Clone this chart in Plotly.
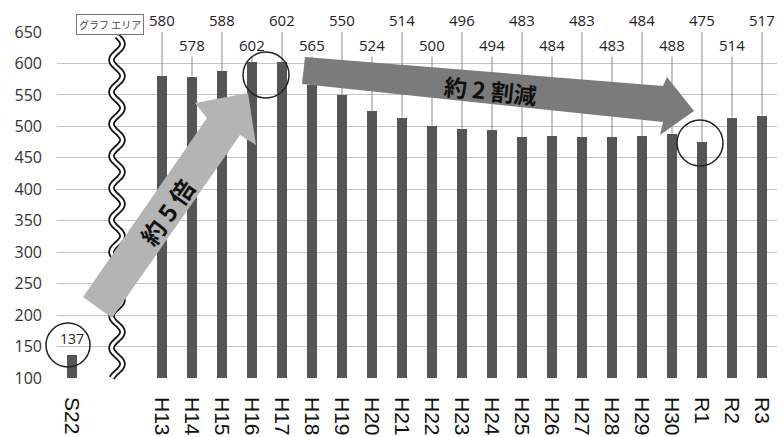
import math
import plotly.graph_objects as go

# ---- data ----
categories = ["S22", "H13", "H14", "H15", "H16", "H17", "H18", "H19", "H20", "H21",
              "H22", "H23", "H24", "H25", "H26", "H27", "H28", "H29", "H30",
              "R1", "R2", "R3"]
values = [137, 580, 578, 588, 602, 602, 565, 550, 524, 514,
          500, 496, 494, 483, 484, 483, 483, 484, 488,
          475, 514, 517]
y_ticks = [100, 150, 200, 250, 300, 350, 400, 450, 500, 550, 600, 650]

W, H = 784, 437
ML, MR, MT, MB = 57, 7, 32, 59
PW, PH = W - ML - MR, H - MT - MB
FONT_JP = "Noto Sans CJK JP"
FONT_NUM = "Open Sans"


def px(x, y):
    return (x - ML) / PW, (H - MB - y) / PH


def path(points, close=True):
    s = ""
    for i, (x, y) in enumerate(points):
        a, b = px(x, y)
        s += ("M" if i == 0 else "L") + f"{a:.5f},{b:.5f}"
    return s + ("Z" if close else "")


axis_order = ["S22", " ", "  "] + categories[1:]

fig = go.Figure()
fig.add_trace(go.Bar(x=categories, y=values, width=0.33,
                     marker=dict(color="#555555", line=dict(width=0)),
                     showlegend=False, hoverinfo="x+y"))

# leader lines and labels
lx, ly = [], []
annotations = []
_, y_high = px(0, 20)
_, y_low = px(0, 45)
for i, (c, v) in enumerate(zip(categories, values)):
    if i == 0:
        annotations.append(dict(x=c, y=px(0, 338)[1], xref="x", yref="paper", text=str(v),
                                xanchor="center", yanchor="middle",
                                showarrow=False, font=dict(size=14, color="#222", family=FONT_NUM)))
        continue
    high = (i - 1) % 2 == 0
    top = 650 if high else 611
    lx += [c, c, None]
    ly += [v, top, None]
    annotations.append(dict(x=c, y=y_high if high else y_low, xref="x", yref="paper", text=str(v),
                            xanchor="center", yanchor="middle",
                            showarrow=False, font=dict(size=15, color="#222", family=FONT_NUM)))

fig.add_trace(go.Scatter(x=lx, y=ly, mode="lines", line=dict(color="#8a8a8a", width=1),
                         showlegend=False, hoverinfo="skip", cliponaxis=False))

shapes = []
# wavy break line
pts = []
y = 36.0
while y <= 378:
    pts.append((117 + 5.5 * math.sin(2 * math.pi * (y - 36) / 32.0), y))
    y += 1.5
wpath = path(pts, close=False)
shapes.append(dict(type="path", path=wpath, xref="paper", yref="paper",
                   line=dict(color="#111", width=6.5), layer="above"))
shapes.append(dict(type="path", path=wpath, xref="paper", yref="paper",
                   line=dict(color="#ffffff", width=3), layer="above"))

# light arrow (約5倍)
arrow1 = [(83, 297), (207, 118), (195, 103), (248, 93), (256, 145), (240, 135), (112, 318)]
shapes.append(dict(type="path", path=path(arrow1), xref="paper", yref="paper",
                   fillcolor="#b4b4b4", line=dict(width=0), layer="above"))
# dark arrow (約2割減)
arrow2 = [(305, 57), (663, 86), (667, 77), (694, 111), (660, 135), (663, 122), (302, 84)]
shapes.append(dict(type="path", path=path(arrow2), xref="paper", yref="paper",
                   fillcolor="#7b7b7b", line=dict(width=0), layer="above"))

# circles
for cx, cy, r in [(266, 75, 23), (700, 143, 23), (68, 345, 22)]:
    x0, y1 = px(cx - r, cy - r)
    x1, y0 = px(cx + r, cy + r)
    shapes.append(dict(type="circle", xref="paper", yref="paper", x0=x0, x1=x1, y0=y0, y1=y1,
                       line=dict(color="#222", width=1.5), layer="above"))

# arrow texts
ax_, ay_ = px(166, 212)
annotations.append(dict(x=ax_, y=ay_, xref="paper", yref="paper", text="約 5 倍", textangle=-55,
                        xanchor="center", yanchor="middle",
                        showarrow=False, font=dict(size=24, color="#111", family=FONT_JP, weight="bold")))
ax_, ay_ = px(490, 90)
annotations.append(dict(x=ax_, y=ay_, xref="paper", yref="paper", text="約 2 割減", textangle=6,
                        xanchor="center", yanchor="middle",
                        showarrow=False, font=dict(size=23, color="#111", family=FONT_JP, weight="bold")))
# chart area tag
ax_, ay_ = px(110, 24)
annotations.append(dict(x=ax_, y=ay_, xref="paper", yref="paper", text="グラフ エリア",
                        xanchor="center", yanchor="middle",
                        showarrow=False, bordercolor="#777", borderwidth=1, borderpad=2,
                        bgcolor="#ffffff", font=dict(size=10, color="#444", family=FONT_JP)))

fig.update_layout(
    width=W, height=H,
    margin=dict(l=ML, r=MR, t=MT, b=MB, autoexpand=False),
    paper_bgcolor="white", plot_bgcolor="white",
    shapes=shapes, annotations=annotations,
    bargap=0,
    xaxis=dict(type="category", categoryorder="array", categoryarray=axis_order,
               range=[-0.5, 23.5], tickangle=90, showgrid=False, showline=False, zeroline=False,
               ticks="", ticklabelstandoff=18, automargin=False,
               tickfont=dict(size=21, color="#111", family="Liberation Sans")),
    yaxis=dict(range=[100, 650], tickvals=y_ticks, showgrid=True, gridcolor="#c4c4c4", gridwidth=1.3,
               zeroline=False, showline=False, ticks="", ticklabelstandoff=14, automargin=False,
               tickfont=dict(size=16, color="#333", family=FONT_NUM)),
)

fig.write_html("out.html")
